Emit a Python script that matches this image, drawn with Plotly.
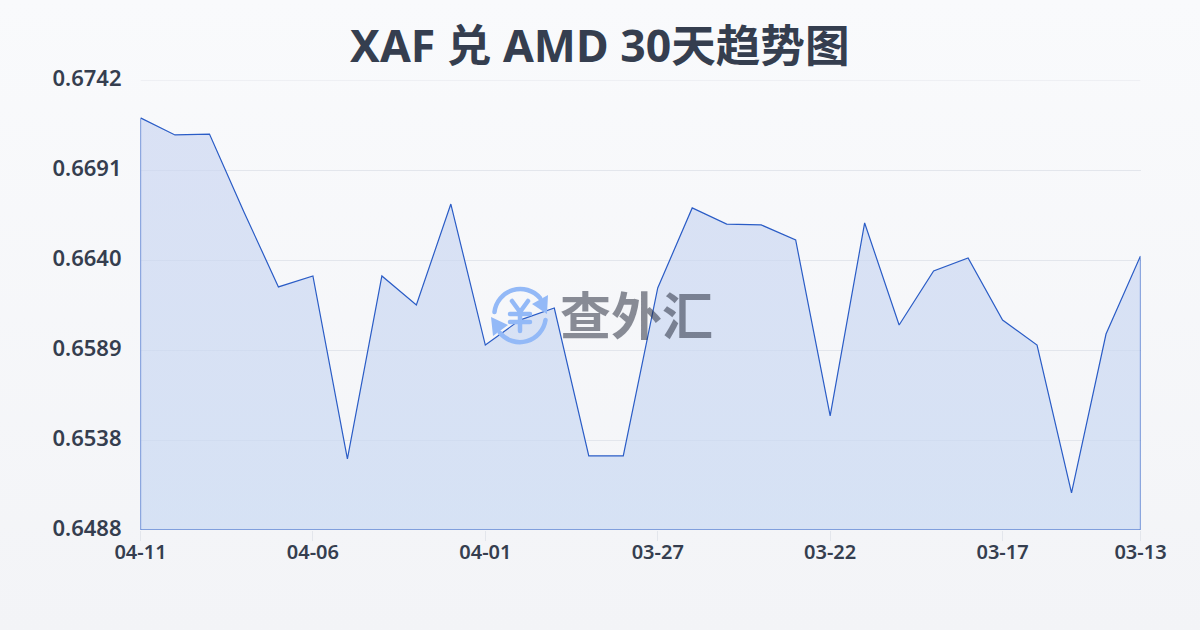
import base64
import plotly.graph_objects as go

dates = ["04-11","04-10","04-09","04-08","04-07","04-06","04-05","04-04","04-03","04-02",
         "04-01","03-31","03-30","03-29","03-28","03-27","03-26","03-25","03-24","03-23",
         "03-22","03-21","03-20","03-19","03-18","03-17","03-16","03-15","03-14","03-13"]
rates = [0.67206,0.67110,0.67115,0.66675,0.66252,0.66314,0.65281,0.66314,0.66150,0.66720,
         0.65924,0.66065,0.66133,0.65298,0.65298,0.66246,0.66698,0.66607,0.66602,0.66517,
         0.65524,0.66613,0.66037,0.66342,0.66415,0.66065,0.65924,0.65089,0.65986,0.66427]
y_ticks = [0.6742,0.66912,0.66404,0.65896,0.65388,0.6488]
y_labels = ["0.6742","0.6691","0.6640","0.6589","0.6538","0.6488"]
x_labels = ["04-11","04-06","04-01","03-27","03-22","03-17","03-13"]
title = "XAF 兑 AMD 30天趋势图"
watermark = "查外汇"
y_min, y_max = 0.6488, 0.6742

W, H = 1200, 630
FONT = "Noto Sans, Noto Sans CJK SC, sans-serif"
INK = "#353e4f"

def uri(svg):
    return "data:image/svg+xml;base64," + base64.b64encode(svg.encode()).decode()

bg_svg = (f'<svg xmlns="http://www.w3.org/2000/svg" width="{W}" height="{H}" preserveAspectRatio="none">'
          '<defs><linearGradient id="g" x1="0" y1="0" x2="0" y2="1">'
          '<stop offset="0" stop-color="#f9fafc"/><stop offset="1" stop-color="#f3f4f7"/>'
          f'</linearGradient></defs><rect width="{W}" height="{H}" fill="url(#g)"/></svg>')

logo_svg = ('<svg xmlns="http://www.w3.org/2000/svg" width="64" height="64" viewBox="0 0 64 64">'
            '<g fill="none" stroke="#93b9f7" stroke-width="4.5" stroke-linecap="round" stroke-linejoin="round">'
            '<path d="M6.5 29 A26 26 0 0 1 52 15"/><path d="M57.5 37 A26 26 0 0 1 12 50"/>'
            '<path stroke-width="4.5" d="M24 18 L32 29 L40 18 M22 31 H42 M22 39 H42 M32 29 V48"/></g>'
            '<path fill="#93b9f7" d="M60 12 L59 31 L44 21 Z M3 34 L20 42 L5 53 Z"/></svg>')

fig = go.Figure()

fig.add_trace(go.Scatter(
    x=dates + [dates[-1], dates[0], dates[0]],
    y=rates + [y_min, y_min, rates[0]],
    mode="lines", fill="toself", showlegend=False, cliponaxis=False,
    line=dict(color="#2a5cc6", width=1.2),
    fillgradient=dict(type="vertical",
                      colorscale=[[0, "rgba(200,217,243,0.68)"], [1, "rgba(202,213,241,0.66)"]]),
    xaxis="x", yaxis="y"))

fig.update_layout(
    width=W, height=H, margin=dict(l=0, r=0, t=0, b=0, autoexpand=False), autosize=False,
    paper_bgcolor="rgba(0,0,0,0)", plot_bgcolor="rgba(0,0,0,0)",
    font=dict(family=FONT, color=INK),
    xaxis=dict(domain=[140.5/W, 1140.5/W], anchor="y", type="category", automargin=False,
               categoryorder="array", categoryarray=dates, range=[0, len(dates)-1],
               tickmode="array", tickvals=x_labels, ticktext=x_labels,
               showgrid=False, zeroline=False, showline=False,
               ticks="outside", ticklen=10, tickwidth=1, tickcolor="#e3e6ec", ticklabelstandoff=-6,
               tickfont=dict(family=FONT, size=20, weight=600, color=INK)),
    yaxis=dict(domain=[1-530/H, 1-80/H], anchor="x", range=[y_min, y_max], automargin=False,
               tickmode="array", tickvals=y_ticks, ticktext=y_labels,
               showgrid=True, gridcolor="#e3e6ec", gridwidth=1, zeroline=False, showline=False,
               ticks="", ticklabelstandoff=18, ticklabelshift=-2,
               tickfont=dict(family=FONT, size=22, weight=600, color=INK)),
    shapes=[dict(type="line", xref="x", yref="y", x0=dates[0], x1=dates[-1], y0=y_max, y1=y_max,
                 line=dict(color="#e3e6ec", width=1), layer="below")],
    images=[
        dict(source=uri(bg_svg), xref="paper", yref="paper", x=0, y=1, sizex=1, sizey=1,
             xanchor="left", yanchor="top", sizing="stretch", layer="below"),
        dict(source=uri(logo_svg), xref="paper", yref="paper", x=488/W, y=1-283/H, sizex=64/W, sizey=64/H,
             xanchor="left", yanchor="top", sizing="stretch", layer="above"),
    ],
    annotations=[
        dict(text=title, xref="paper", yref="paper", x=0.5, y=1-45/H,
             xanchor="center", yanchor="middle", showarrow=False,
             font=dict(family=FONT, size=44.6, weight=700, color=INK)),
        dict(text=watermark, xref="paper", yref="paper", x=636/W, y=1-313/H,
             xanchor="center", yanchor="middle", showarrow=False, opacity=0.5,
             font=dict(family="Noto Sans CJK SC", size=51, weight=700, color="#1c2233")),
    ],
)

fig.write_html("out.html", config=dict(displayModeBar=False),
               post_script="document.body.style.margin='0';document.documentElement.style.overflow='hidden';")
